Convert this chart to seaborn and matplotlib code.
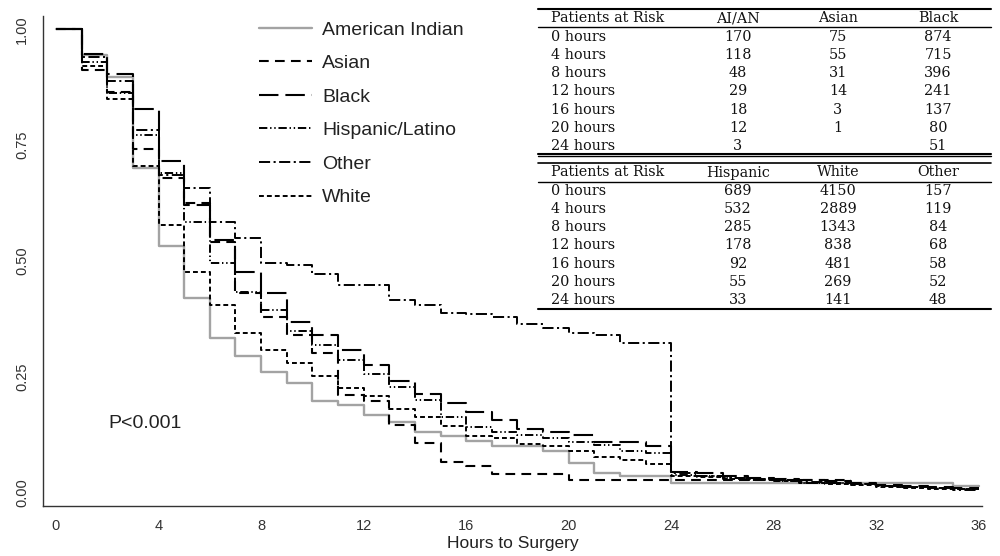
import numpy as np
import pandas as pd
import matplotlib
matplotlib.use("Agg")
import matplotlib.pyplot as plt
import seaborn as sns
from matplotlib.lines import Line2D

# ---------------- data (survival, value on [h, h+1) ) ----------------
groups = ["American Indian", "Asian", "Black", "Hispanic/Latino", "Other", "White"]

ai_surv = [1.0, 0.945, 0.896, 0.70, 0.532, 0.42, 0.334, 0.295, 0.261, 0.236,
           0.197, 0.19, 0.168, 0.152, 0.132, 0.123, 0.111, 0.10, 0.10, 0.089,
           0.065, 0.042, 0.035, 0.035, 0.021, 0.021, 0.021, 0.021, 0.021, 0.021,
           0.021, 0.021, 0.021, 0.021, 0.021, 0.014]
asian_surv = [1.0, 0.912, 0.865, 0.741, 0.68, 0.625, 0.54, 0.43, 0.38, 0.34,
              0.301, 0.211, 0.197, 0.147, 0.107, 0.067, 0.057, 0.041, 0.041, 0.041,
              0.028, 0.028, 0.028, 0.028, 0.028, 0.028, 0.028, 0.028, 0.028, 0.028,
              0.028]
black_surv = [1.0, 0.947, 0.903, 0.827, 0.716, 0.62, 0.545, 0.477, 0.432, 0.369,
              0.34, 0.308, 0.276, 0.24, 0.213, 0.193, 0.175, 0.157, 0.137, 0.13,
              0.125, 0.11, 0.11, 0.10, 0.045, 0.042, 0.036, 0.032, 0.03, 0.028,
              0.025, 0.02, 0.017, 0.014, 0.012, 0.01]
hisp_surv = [1.0, 0.93, 0.863, 0.772, 0.69, 0.585, 0.495, 0.434, 0.394, 0.348,
             0.319, 0.287, 0.256, 0.229, 0.20, 0.163, 0.142, 0.132, 0.125, 0.117,
             0.11, 0.103, 0.09, 0.086, 0.038, 0.035, 0.032, 0.03, 0.026, 0.022,
             0.02, 0.018, 0.015, 0.012, 0.01, 0.008]
other_surv = [1.0, 0.94, 0.888, 0.782, 0.685, 0.657, 0.585, 0.549, 0.496, 0.491,
              0.473, 0.448, 0.448, 0.416, 0.405, 0.388, 0.385, 0.38, 0.365, 0.355,
              0.345, 0.34, 0.324, 0.324, 0.042, 0.036, 0.032, 0.03, 0.028, 0.024,
              0.02, 0.018, 0.015, 0.012, 0.01, 0.006]
white_surv = [1.0, 0.92, 0.85, 0.705, 0.578, 0.477, 0.405, 0.345, 0.308, 0.28,
              0.252, 0.226, 0.208, 0.18, 0.164, 0.144, 0.122, 0.118, 0.105, 0.10,
              0.089, 0.078, 0.07, 0.063, 0.035, 0.033, 0.03, 0.028, 0.025, 0.02,
              0.018, 0.016, 0.013, 0.011, 0.009, 0.007]

series = [ai_surv, asian_surv, black_surv, hisp_surv, other_surv, white_surv]
end_hours = [36, 31, 36, 36, 36, 36]

x_ticks = [0, 4, 8, 12, 16, 20, 24, 28, 32, 36]
y_ticks = [0.0, 0.25, 0.5, 0.75, 1.0]
y_tick_labels = ["0.00", "0.25", "0.50", "0.75", "1.00"]

# Patients-at-risk table
risk_rows = ["0 hours", "4 hours", "8 hours", "12 hours", "16 hours", "20 hours", "24 hours"]
tab1_cols = ["AI/AN", "Asian", "Black"]
aian_risk = ["170", "118", "48", "29", "18", "12", "3"]
asian_risk = ["75", "55", "31", "14", "3", "1", ""]
black_risk = ["874", "715", "396", "241", "137", "80", "51"]
tab2_cols = ["Hispanic", "White", "Other"]
hisp_risk = ["689", "532", "285", "178", "92", "55", "33"]
white_risk = ["4150", "2889", "1343", "838", "481", "269", "141"]
other_risk = ["157", "119", "84", "68", "58", "52", "48"]

# ---------------- build long frame ----------------
rows = []
for g, s, e in zip(groups, series, end_hours):
    for h, v in enumerate(s):
        rows.append((g, float(h), v))
    rows.append((g, float(e), s[-1]))
df = pd.DataFrame(rows, columns=["group", "hours", "surv"])

# ---------------- style ----------------
sns.set_theme(style="white")
plt.rcParams['font.family'] = ['Liberation Sans', 'DejaVu Sans']
plt.rcParams['lines.scale_dashes'] = False

styles = {
    "American Indian": dict(color="#a3a3a3", ls="-", lw=1.7),
    "Asian": dict(color="black", ls=(0, (7, 4.5)), lw=1.5),
    "Black": dict(color="black", ls=(0, (14, 5)), lw=1.5),
    "Hispanic/Latino": dict(color="black", ls=(0, (6, 2, 1, 2, 1, 2)), lw=1.4),
    "Other": dict(color="black", ls=(0, (8, 2.5, 1.5, 2.5)), lw=1.4),
    "White": dict(color="black", ls=(0, (3.5, 2.2)), lw=1.4),
}

fig = plt.figure(figsize=(10, 5.56), dpi=100)
ax = fig.add_axes([0.043, 1 - 506 / 556, 0.939, (506 - 16) / 556])

handles = []
for g in groups:
    st = styles[g]
    sns.lineplot(data=df[df.group == g], x="hours", y="surv", ax=ax,
                 drawstyle="steps-post", estimator=None, color=st["color"],
                 linewidth=st["lw"], label=g, legend=False)
    ln = ax.lines[-1]
    ln.set_linestyle(st["ls"])
    handles.append(ln)

ax.set_xlim(-0.507, 36.12)
ax.set_ylim(-0.0287, 1.0287)
ax.set_xticks(x_ticks)
ax.set_xticklabels([str(t) for t in x_ticks])
ax.set_yticks(y_ticks)
ax.set_yticklabels(y_tick_labels, rotation=90, va="center")
ax.set_xlabel("Hours to Surgery", fontsize=12.5, color="#222222", labelpad=2)
ax.set_ylabel("")
for sp in ["top", "right"]:
    ax.spines[sp].set_visible(False)
for sp in ["left", "bottom"]:
    ax.spines[sp].set_color("#333333")
    ax.spines[sp].set_linewidth(1.0)
ax.tick_params(axis="both", direction="out", length=4.5, width=1.0,
               color="#333333", labelcolor="#333333", labelsize=10.5)
ax.tick_params(axis="x", pad=5)
ax.tick_params(axis="y", pad=5.5)
ax.grid(False)

ax.text(2.03, 0.15, "P<0.001", fontsize=14, color="#222222", va="center", ha="left")

leg = ax.legend(handles=handles, labels=groups, loc="upper left",
                bbox_to_anchor=(259 / 1000, 1 - 21 / 556), bbox_transform=fig.transFigure,
                frameon=False, fontsize=14, handlelength=2.7, handletextpad=0.55,
                labelspacing=0.82, borderpad=0, borderaxespad=0)
for t in leg.get_texts():
    t.set_color("#222222")

# ---------------- table ----------------
def fx(px):
    return px / 1000

def fy(py):
    return 1 - py / 556

serif = ['DejaVu Serif', 'Liberation Serif']
tfs = 10.4
col_x = [738, 838, 938]

def rule(py, lw):
    fig.add_artist(Line2D([fx(538), fx(991)], [fy(py), fy(py)], color="black", lw=lw))

def draw_block(header_y, cols, data_cols):
    fig.text(fx(551), fy(header_y), "Patients at Risk", family=serif, fontsize=tfs,
             va="center", ha="left", color="#111111")
    for cx, c in zip(col_x, cols):
        fig.text(fx(cx), fy(header_y), c, family=serif, fontsize=tfs, va="center",
                 ha="center", color="#111111")
    for i, r in enumerate(risk_rows):
        ry = header_y + 18.2 * (i + 1)
        fig.text(fx(551), fy(ry), r, family=serif, fontsize=tfs, va="center",
                 ha="left", color="#111111")
        for cx, dc in zip(col_x, data_cols):
            fig.text(fx(cx), fy(ry), dc[i], family=serif, fontsize=tfs, va="center",
                     ha="center", color="#111111")

rule(9.3, 1.5)
rule(27.3, 1.0)
draw_block(18.5, tab1_cols, [aian_risk, asian_risk, black_risk])
rule(153.5, 1.5)
rule(156.3, 1.0)
rule(163.3, 1.2)
rule(181.7, 1.0)
draw_block(172.5, tab2_cols, [hisp_risk, white_risk, other_risk])
rule(308.5, 1.5)

fig.savefig("out.png", dpi=100)
